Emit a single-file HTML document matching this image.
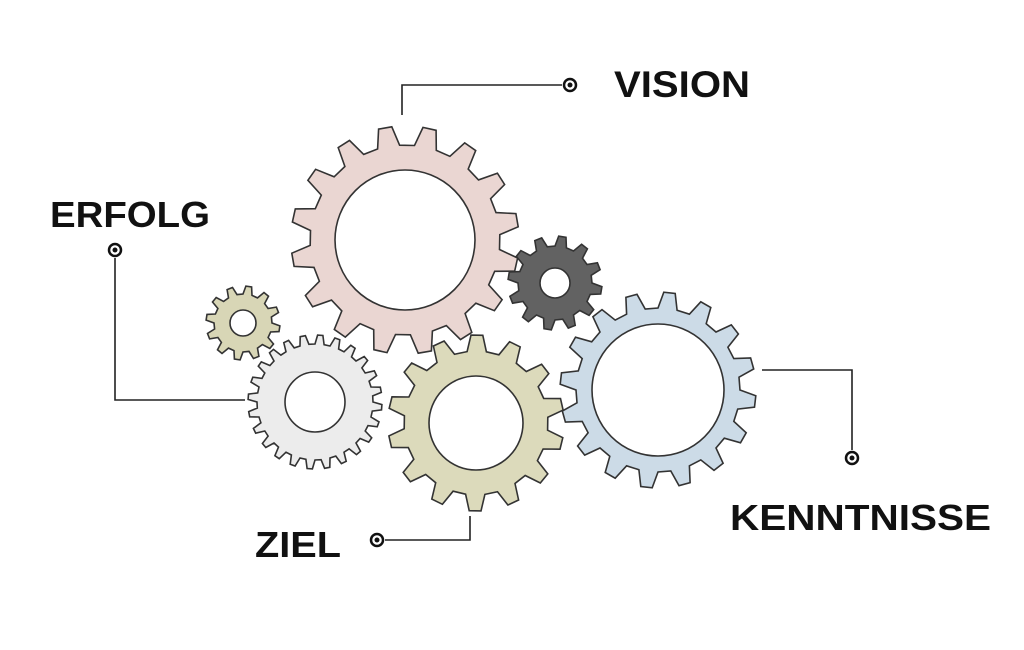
<!DOCTYPE html>
<html><head><meta charset="utf-8"><style>
html,body{margin:0;padding:0;background:#fff;}
svg{display:block}
text{font-family:"Liberation Sans",sans-serif;font-weight:bold;fill:#111;}
</style></head><body>
<svg id="s" width="1024" height="650" viewBox="0 0 1024 650" xmlns="http://www.w3.org/2000/svg">
<g id="gears"></g>
<g stroke="#222" stroke-width="1.6" fill="none">
<polyline points="402,115 402,85 562,85"/>
<polyline points="115,258 115,400 245,400"/>
<polyline points="385,540 470,540 470,516"/>
<polyline points="762,370 852,370 852,450"/>
</g>
<g fill="#fff" stroke="#111" stroke-width="2.5">
<circle cx="570" cy="85" r="6"/><circle cx="115" cy="250" r="6"/>
<circle cx="377" cy="540" r="6"/><circle cx="852" cy="458" r="6"/>
</g>
<g fill="#111"><circle cx="570" cy="85" r="2.5"/><circle cx="115" cy="250" r="2.5"/><circle cx="377" cy="540" r="2.5"/><circle cx="852" cy="458" r="2.5"/></g>
<text x="614" y="97" font-size="37" textLength="136" lengthAdjust="spacingAndGlyphs">VISION</text>
<text x="50" y="227" font-size="36" textLength="160" lengthAdjust="spacingAndGlyphs">ERFOLG</text>
<text x="255" y="557" font-size="36" textLength="86" lengthAdjust="spacingAndGlyphs">ZIEL</text>
<text x="730" y="530" font-size="36" textLength="261" lengthAdjust="spacingAndGlyphs">KENNTNISSE</text>
</svg>
<script>
function gear(cx,cy,ro,ri,hole,n,fill,rot){
  var d="",step=Math.PI*2/n;
  for(var i=0;i<n;i++){
    var a=i*step+(rot||0);
    var pts=[[ri,a],[ro,a+step*0.15],[ro,a+step*0.45],[ri,a+step*0.6]];
    for(var j=0;j<pts.length;j++){
      var r=pts[j][0],t=pts[j][1];
      d+=(i==0&&j==0?"M":"L")+(cx+r*Math.cos(t)).toFixed(1)+","+(cy+r*Math.sin(t)).toFixed(1);
    }
  }
  d+="Z M"+(cx+hole)+","+cy+" a"+hole+","+hole+" 0 1,0 "+(-2*hole)+",0 a"+hole+","+hole+" 0 1,0 "+(2*hole)+",0Z";
  return '<path d="'+d+'" fill="'+fill+'" fill-rule="evenodd" stroke="#333" stroke-width="1.6"/>';
}
var g="";
g+=gear(405,240,114,95,70,16,"#ead6d2",0.1);
g+=gear(555,283,47,37,15,12,"#626262",0);
g+=gear(243,323,37,29,13,12,"#d8d6b6",0);
g+=gear(315,402,67,58,30,24,"#ececec",0);
g+=gear(476,423,88,72,47,14,"#dcdabb",0.1);
g+=gear(658,390,98,82,66,16,"#ccdbe7",0);
document.getElementById("gears").innerHTML=g;
</script>
</body></html>
